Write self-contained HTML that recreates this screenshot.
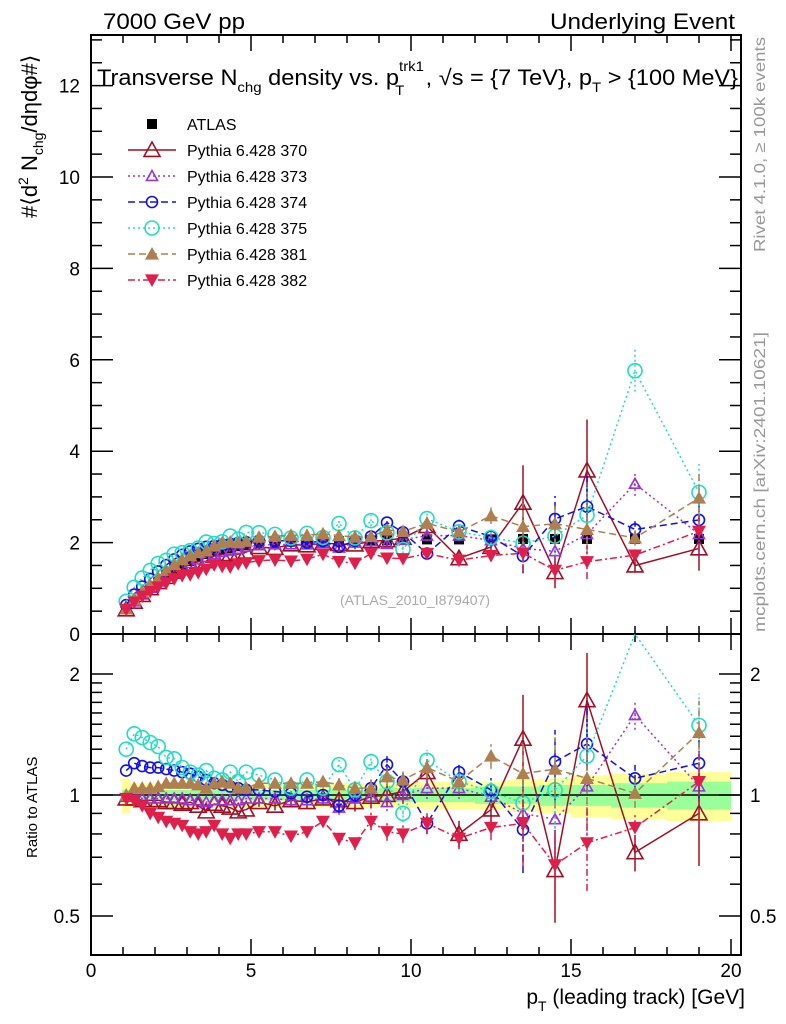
<!DOCTYPE html>
<html><head><meta charset="utf-8">
<style>
html,body{margin:0;padding:0;background:#fff;}
svg{display:block;font-family:"Liberation Sans",sans-serif;}
</style></head>
<body>
<svg id="chart" width="786" height="1024" viewBox="0 0 786 1024" xmlns="http://www.w3.org/2000/svg">
<rect x="0" y="0" width="786" height="1024" fill="#fff"/>
<g id="bands"></g>
<g id="axes"></g>
<g id="series"></g>
<text x="103" y="29" font-size="22" textLength="142" lengthAdjust="spacingAndGlyphs">7000 GeV pp</text>
<text x="735" y="29" font-size="22" text-anchor="end" textLength="185" lengthAdjust="spacingAndGlyphs">Underlying Event</text>
<text x="97" y="85" font-size="22" textLength="641" lengthAdjust="spacingAndGlyphs">Transverse N<tspan font-size="14" dy="7">chg</tspan><tspan dy="-7"> density vs. p</tspan><tspan font-size="14" dy="-14">trk1</tspan><tspan font-size="14" dx="-27" dy="24">T</tspan><tspan dx="20" dy="-10">, √s = {7 TeV}, p</tspan><tspan font-size="14" dy="7">T</tspan><tspan dy="-7"> &gt; {100 MeV}</tspan></text>
<text transform="translate(37,218) rotate(-90)" font-size="22">#⟨d<tspan font-size="14" dy="-9">2</tspan><tspan dy="9"> N</tspan><tspan font-size="14" dy="6">chg</tspan><tspan dy="-6">/dηdφ#⟩</tspan></text>
<text transform="translate(37,858) rotate(-90)" font-size="15">Ratio to ATLAS</text>
<text x="745" y="1004" font-size="21" text-anchor="end">p<tspan font-size="14" dy="7">T</tspan><tspan dy="-7"> (leading track) [GeV]</tspan></text>
<text transform="translate(765,252) rotate(-90)" font-size="16" fill="#999" textLength="215" lengthAdjust="spacingAndGlyphs">Rivet 4.1.0, ≥ 100k events</text>
<text transform="translate(765,632) rotate(-90)" font-size="16" fill="#999" textLength="300" lengthAdjust="spacingAndGlyphs">mcplots.cern.ch [arXiv:2401.10621]</text>
<text x="415" y="605" font-size="14" fill="#aaa" text-anchor="middle">(ATLAS_2010_I879407)</text>
<g id="legend"></g>
</svg>
<script>
// ---- data ----
const xVals = [1.1,1.35,1.6,1.85,2.1,2.35,2.6,2.85,3.1,3.35,3.6,3.85,4.1,4.35,4.6,4.85,5.25,5.75,6.25,6.75,7.25,7.75,8.25,8.75,9.25,9.75,10.5,11.5,12.5,13.5,14.5,15.5,17,19];
const atlasVals = [0.55,0.72,0.88,1.03,1.17,1.30,1.42,1.52,1.60,1.68,1.75,1.80,1.85,1.88,1.92,1.95,1.98,2.0,2.02,2.02,2.03,2.03,2.04,2.05,2.05,2.06,2.07,2.07,2.07,2.08,2.08,2.08,2.08,2.08];
const ratio370 = [0.98,0.98,0.97,0.97,0.97,0.96,0.96,0.95,0.96,0.94,0.91,0.95,0.94,0.93,0.91,0.92,0.96,0.94,0.97,0.96,0.98,0.97,0.96,0.99,1.00,1.02,1.14,0.80,0.92,1.38,0.65,1.72,0.72,0.90];
const ratio373 = [0.99,0.99,0.98,0.98,0.98,0.98,0.98,0.98,0.97,0.97,0.96,0.97,0.97,0.97,0.97,0.98,0.98,0.98,0.97,0.97,0.98,0.93,0.98,0.99,0.96,1.00,1.04,1.04,0.99,0.90,0.87,1.05,1.58,1.05];
const ratio374 = [1.15,1.20,1.18,1.17,1.17,1.16,1.15,1.14,1.13,1.11,1.09,1.07,1.06,1.05,1.04,1.03,1.03,1.02,1.01,0.99,1.00,0.94,1.00,1.04,1.19,1.08,0.85,1.14,1.03,0.82,1.21,1.34,1.10,1.20];
const ratio375 = [1.30,1.42,1.39,1.35,1.32,1.24,1.23,1.17,1.14,1.12,1.15,1.10,1.09,1.14,1.08,1.14,1.12,1.09,1.04,1.09,1.04,1.19,1.03,1.21,1.08,0.90,1.22,1.08,1.02,0.955,1.03,1.25,2.77,1.49];
const ratio381 = [1.00,1.04,1.04,1.04,1.05,1.07,1.07,1.07,1.07,1.06,1.04,1.07,1.08,1.07,1.04,1.04,1.07,1.07,1.07,1.07,1.08,1.06,1.04,1.04,1.11,1.09,1.17,1.08,1.25,1.13,1.16,1.10,1.01,1.43];
const ratio382 = [0.98,0.97,0.94,0.90,0.88,0.86,0.85,0.84,0.81,0.80,0.81,0.84,0.80,0.78,0.80,0.80,0.81,0.81,0.79,0.81,0.86,0.78,0.76,0.86,0.81,0.80,0.85,0.78,0.83,0.85,0.67,0.76,0.83,1.08];
const relErr = [0.01,0.01,0.01,0.01,0.01,0.01,0.01,0.01,0.01,0.01,0.01,0.01,0.01,0.01,0.015,0.015,0.02,0.02,0.03,0.03,0.03,0.04,0.04,0.05,0.05,0.05,0.06,0.06,0.07,0.22,0.2,0.24,0.08,0.2];
const bandTotal = [0.10,0.07,0.07,0.07,0.07,0.07,0.07,0.07,0.07,0.07,0.07,0.07,0.07,0.07,0.07,0.07,0.07,0.07,0.07,0.07,0.07,0.07,0.07,0.07,0.07,0.07,0.08,0.08,0.08,0.09,0.10,0.12,0.13,0.14];
const bandStat = [0.03,0.03,0.03,0.03,0.03,0.03,0.03,0.03,0.03,0.03,0.03,0.03,0.03,0.03,0.03,0.03,0.03,0.03,0.03,0.03,0.03,0.03,0.03,0.03,0.04,0.04,0.04,0.04,0.05,0.05,0.06,0.06,0.07,0.08];
const yTicksTop = ["0","2","4","6","8","10","12"];
const yTicksRatio = ["0.5","1","2"];
const xTickLabels = ["0","5","10","15","20"];

// ---- scales ----
const X0=91, XR=741, YT=35, YM=634, YB=955;
const xs = v => 91 + v*32;
const ys = v => 634 - v*45.7;
const yr = r => 795 - 121*Math.log2(r);
const NS="http://www.w3.org/2000/svg";
function mk(tag, parent, attrs){const e=document.createElementNS(NS,tag);for(const k in attrs)e.setAttribute(k,attrs[k]);parent.appendChild(e);return e;}

const axes=document.getElementById('axes');
const bands=document.getElementById('bands');
function bandPath(w){
  let up=[],dn=[];
  for(let i=0;i<xVals.length;i++){
    const lo = i==0?xVals[0]-0.13:(xVals[i-1]+xVals[i])/2;
    const hi = i==xVals.length-1?20:(xVals[i]+xVals[i+1])/2;
    up.push([xs(lo),yr(1+w[i])],[xs(hi),yr(1+w[i])]);
    dn.push([xs(lo),yr(1-w[i])],[xs(hi),yr(1-w[i])]);
  }
  return 'M'+up.map(p=>p.join(',')).join('L')+'L'+dn.reverse().map(p=>p.join(',')).join('L')+'Z';
}
const bt=mk('path',bands,{d:bandPath(bandTotal),fill:'#ffff99'});


const bs=mk('path',bands,{d:bandPath(bandStat),fill:'#99ff99'});



mk('rect',axes,{x:X0,y:YT,width:XR-X0,height:YB-YT,fill:'none',stroke:'#000','stroke-width':2});
mk('line',axes,{x1:X0,y1:YM,x2:XR,y2:YM,stroke:'#000','stroke-width':2});
mk('line',axes,{x1:X0,y1:yr(1),x2:XR,y2:yr(1),stroke:'#000','stroke-width':1.5});
for(let v=0;v<=21;v++){
  const x=xs(v); if(x>XR) break;
  const L = v%5==0?16:8;
  for(const yb of [YM,YB]) mk('line',axes,{x1:x,y1:yb,x2:x,y2:yb-L,stroke:'#000','stroke-width':1.5});
  for(const yt of [YT,YM]) mk('line',axes,{x1:x,y1:yt,x2:x,y2:yt+L,stroke:'#000','stroke-width':1.5});
}
xTickLabels.forEach((t,i)=>{const e=mk('text',axes,{x:xs(i*5),y:977,'font-size':19,'text-anchor':'middle'});e.textContent=t;

});
for(let k=0;k<=26;k++){const v=k*0.5;const y=ys(v);if(y<YT)break;const L=k%4==0?22:11;
  mk('line',axes,{x1:X0,y1:y,x2:X0+L,y2:y,stroke:'#000','stroke-width':1.5});
  mk('line',axes,{x1:XR,y1:y,x2:XR-L,y2:y,stroke:'#000','stroke-width':1.5});}
yTicksTop.forEach(t=>{const e=mk('text',axes,{x:80,y:ys(+t)+7,'font-size':19,'text-anchor':'end'});e.textContent=t;

});
[0.4,0.5,0.6,0.7,0.8,0.9,1,1.1,1.2,1.3,1.4,1.5,1.6,1.7,1.8,1.9,2].forEach(r=>{const y=yr(r);if(y>YB||y<YM)return;
  const major=(r==0.5||r==1||r==2);const L=major?22:11;
  mk('line',axes,{x1:X0,y1:y,x2:X0+L,y2:y,stroke:'#000','stroke-width':1.5});
  mk('line',axes,{x1:XR,y1:y,x2:XR-L,y2:y,stroke:'#000','stroke-width':1.5});});
yTicksRatio.forEach(t=>{
  let e=mk('text',axes,{x:80,y:yr(+t)+7,'font-size':19,'text-anchor':'end'});e.textContent=t;
  
  
  e=mk('text',axes,{x:750,y:yr(+t)+7,'font-size':19});e.textContent=t;
  
  });

const seriesDefs=[
 {name:'Pythia 6.428 370',ratio:ratio370,color:'#a01025',dash:'',marker:'tri-open',size:8},
 {name:'Pythia 6.428 373',ratio:ratio373,color:'#9933dd',dash:'2,3',marker:'tri-open',size:5.5},
 {name:'Pythia 6.428 374',ratio:ratio374,color:'#1010ee',dash:'7,4',marker:'circ-open',size:5.5},
 {name:'Pythia 6.428 375',ratio:ratio375,color:'#22ddc4',dash:'2,3',marker:'circ-open',size:7},
 {name:'Pythia 6.428 381',ratio:ratio381,color:'#b07f4f',dash:'7,4',marker:'tri-fill',size:7},
 {name:'Pythia 6.428 382',ratio:ratio382,color:'#e01e4a',dash:'7,3,2,3',marker:'tri-down',size:7},
];
const sg=document.getElementById('series');
function marker(g,type,x,y,s,c){
  if(type=='tri-open') return mk('path',g,{d:`M${x},${y-s}L${x+s},${y+s*0.8}L${x-s},${y+s*0.8}Z`,fill:'none',stroke:c,'stroke-width':1.6});
  if(type=='tri-fill') return mk('path',g,{d:`M${x},${y-s}L${x+s},${y+s*0.8}L${x-s},${y+s*0.8}Z`,fill:c});
  if(type=='tri-down') return mk('path',g,{d:`M${x},${y+s}L${x+s},${y-s*0.8}L${x-s},${y-s*0.8}Z`,fill:c});
  if(type=='circ-open') return mk('circle',g,{cx:x,cy:y,r:s,fill:'none',stroke:c,'stroke-width':1.6});
  if(type=='square') return mk('rect',g,{x:x-s,y:y-s,width:2*s,height:2*s,fill:c});
}
function clipR(y){return Math.max(YM,Math.min(YB,y));}
// ATLAS data drawn first (beneath MC)
const ag=mk('g',sg,{});


xVals.forEach((x,i)=>{const m=marker(ag,'square',xs(x),ys(atlasVals[i]),5,'#000');
  
  });
seriesDefs.forEach((sd,si)=>{
  const g=mk('g',sg,{});
  
  
  const topPts=xVals.map((x,i)=>[xs(x),ys(atlasVals[i]*sd.ratio[i])]);
  const rPts=xVals.map((x,i)=>[xs(x),yr(sd.ratio[i])]);
  const da=sd.dash?{'stroke-dasharray':sd.dash}:{};
  mk('polyline',g,Object.assign({points:topPts.map(p=>p.join(',')).join(' '),fill:'none',stroke:sd.color,'stroke-width':1.5},da));
  mk('polyline',g,Object.assign({points:rPts.map(p=>[p[0],clipR(p[1])].join(',')).join(' '),fill:'none',stroke:sd.color,'stroke-width':1.5},da));
  xVals.forEach((x,i)=>{
    const e=relErr[i]*(si==0?1.3:1);
    const v=atlasVals[i]*sd.ratio[i];
    if(e>0.02){
      mk('line',g,Object.assign({x1:xs(x),x2:xs(x),y1:ys(v*(1-e)),y2:ys(v*(1+e)),stroke:sd.color,'stroke-width':1.5},da));
      const r=sd.ratio[i];
      mk('line',g,Object.assign({x1:xs(x),x2:xs(x),y1:clipR(yr(Math.max(0.3,r*(1-e)))),y2:clipR(yr(r*(1+e))),stroke:sd.color,'stroke-width':1.5},da));
    }
    const m1=marker(g,sd.marker,xs(x),ys(v),sd.size,sd.color);
    
    
    const ry=yr(sd.ratio[i]);
    if(ry>YM+4&&ry<YB){
      const m2=marker(g,sd.marker,xs(x),ry,sd.size,sd.color);
      
      
    }
  });
});

const lg=document.getElementById('legend');
const items=[{name:'ATLAS',marker:'square',color:'#000',size:5,dash:null}].concat(seriesDefs);
items.forEach((it,i)=>{
  const y=124+i*26;
  const g=mk('g',lg,{});
  
  
  if(it.dash!==null) mk('line',g,Object.assign({x1:128,x2:176,y1:y,y2:y,stroke:it.color,'stroke-width':1.5},it.dash?{'stroke-dasharray':it.dash}:{}));
  marker(g,it.marker,152,y,it.size,it.color);
  const t=mk('text',g,{x:187,y:y+6,'font-size':16});t.textContent=it.name;
});
</script>
</body></html>
